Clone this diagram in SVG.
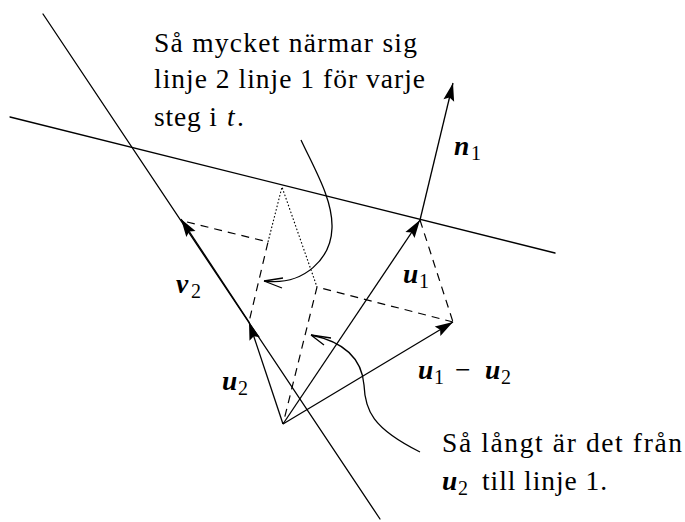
<svg xmlns="http://www.w3.org/2000/svg" width="685" height="522" viewBox="0 0 685 522">
<style>
.ln{stroke:#000;stroke-width:1.3;fill:none;stroke-linecap:round}
.vec{stroke:#000;stroke-width:1.3;fill:none;marker-end:url(#ah)}
.dash{stroke:#000;stroke-width:1.2;fill:none;stroke-dasharray:8 6}
.dot{stroke:#000;stroke-width:1.1;fill:none;stroke-dasharray:1.6 2}
.cv{stroke:#000;stroke-width:1.3;fill:none}
text{fill:#000;font-family:"Liberation Serif","DejaVu Serif",serif}
.t{font-size:27.5px}
.m{font-size:27.5px;font-weight:bold;font-style:italic}
.s{font-size:20px}
.mi{font-size:27.5px;font-style:italic}
</style>
<defs>
<marker id="ah" markerUnits="userSpaceOnUse" markerWidth="24" markerHeight="16" viewBox="-20 -8 24 16" refX="0" refY="0" orient="auto" overflow="visible">
<path d="M0,0 L-18,-5.5 L-15,0 L-18,5.5 Z" fill="#000"/>
</marker>
</defs>
<rect width="685" height="522" fill="#fff"/>
<g id="lines">
<path class="ln" d="M43,14 L380,519"/>
<path class="ln" d="M10,117 L555,253"/>
</g>
<g id="connectors">
<path class="vec" d="M283,424 L249,322"/>
<path class="vec" d="M249,322 L181,219"/>
<path class="vec" d="M283,424 L420,220"/>
<path class="vec" d="M420,220 L453,83"/>
<path class="vec" d="M283,424 L453,322"/>
<path class="dash" d="M187,222 L268,242 L249,322"/>
<path class="dash" d="M453,322 L317,287 L283,424"/>
<path class="dash" d="M420,220 L453,322"/>
<path class="dot" d="M268,242 L282,187 L317,287"/>
<path class="cv" d="M301,140 C315,170 333,200 332,228 C331,258 305,286 264,281"/>
<path class="cv" d="M264,281 L283,278 M264,281 L282,288"/>
<path class="cv" d="M311,335 C345,342 362,360 364,385 C365,410 372,428 420,452"/>
<path class="cv" d="M311,335 L331,338 M311,335 L324,345"/>
</g>
<g id="label-top">
<text class="t" x="154" y="52" textLength="263">Så mycket närmar sig</text>
<text class="t" x="154" y="88" textLength="271">linje 2 linje 1 för varje</text>
<text class="t" x="154" y="126" textLength="63">steg i</text>
<text class="mi" x="227" y="126">t</text>
<text class="t" x="237" y="126">.</text>
</g>
<g id="label-bottom">
<text class="t" x="442" y="452" textLength="240">Så långt är det från</text>
<text class="m" x="442" y="490">u</text>
<text class="s" x="458" y="495">2</text>
<text class="t" x="482" y="490" textLength="125">till linje 1.</text>
</g>
<g id="label-n1"><text class="m" x="454" y="155">n</text><text class="s" x="471" y="160">1</text></g>
<g id="label-v2"><text class="m" x="176" y="293">v</text><text class="s" x="191" y="298">2</text></g>
<g id="label-u1"><text class="m" x="403" y="283">u</text><text class="s" x="419" y="288">1</text></g>
<g id="label-u2"><text class="m" x="222" y="390">u</text><text class="s" x="238" y="395">2</text></g>
<g id="label-u1-u2">
<text class="m" x="418" y="379">u</text><text class="s" x="434" y="384">1</text>
<text class="t" x="455" y="379">−</text>
<text class="m" x="485" y="379">u</text><text class="s" x="501" y="384">2</text>
</g>
</svg>
